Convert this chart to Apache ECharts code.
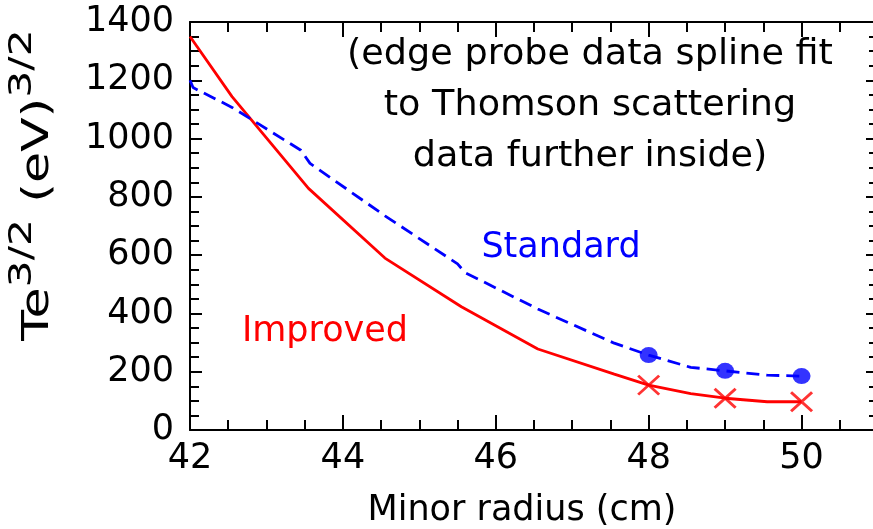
<!DOCTYPE html>
<html>
<head>
<meta charset="utf-8">
<script src="https://cdn.jsdelivr.net/npm/echarts@6/dist/echarts.min.js"></script>
<style>
  html, body { margin: 0; padding: 0; background: #ffffff; overflow: hidden; width: 873px; height: 529px; }
  #chart { width: 878px; height: 529px; }
</style>
</head>
<body>
<div id="chart"></div>
<script>
// ---- data ----
const improvedX = [42.00, 42.55, 43.55, 44.55, 45.55, 46.55, 47.55, 48.00, 48.55, 49.00, 49.55, 50.00];
const improvedY = [1350, 1144, 829, 590, 423, 278, 192, 154, 125, 109, 97, 97];
const standardX = [42.00, 42.04, 42.55, 43.45, 43.57, 44.55, 45.50, 45.60, 46.55, 47.55, 48.00, 48.55, 49.00, 49.55, 50.00];
const standardY = [1200, 1175, 1107, 960, 915, 735, 570, 540, 415, 298, 257, 215, 203, 188, 185];
const markerX = [48, 49, 50];
const standardMarkY = [257, 203, 185];
const improvedMarkY = [154, 109, 97];
const xTicks = [42, 44, 46, 48, 50];
const yTicks = [0, 200, 400, 600, 800, 1000, 1200, 1400];
const noteLines = ['(edge probe data spline fit', 'to Thomson scattering', 'data further inside)'];

const FONT = 'DejaVu Sans';
const pairs = (xs, ys) => xs.map((x, i) => [x, ys[i]]);

const chart = echarts.init(document.getElementById('chart'), null, { renderer: 'canvas' });

const baseX = {
  type: 'value', min: xTicks[0], max: 51, splitLine: { show: false },
  axisLine: { show: false, onZero: false }
};
const baseY = {
  type: 'value', min: yTicks[0], max: yTicks[yTicks.length - 1], interval: 200,
  splitLine: { show: false }
};
const txt = (t, x, y, color, extra) => Object.assign({
  type: 'text', x: x, y: y,
  style: { text: t, fill: color, font: '35px "' + FONT + '"', textAlign: 'center', textVerticalAlign: 'middle' }
}, extra || {});

const option = {
  backgroundColor: '#ffffff',
  animation: false,
  grid: { left: 190, top: 22, right: 0, bottom: 99, containLabel: false },
  xAxis: [
    Object.assign({}, baseX, {
      position: 'bottom', interval: 2,
      axisLine: { show: true, onZero: false, lineStyle: { color: '#000', width: 2 } },
      axisTick: { show: true, inside: true, length: 15, lineStyle: { color: '#000', width: 2 } },
      axisLabel: {
        show: true, margin: 11, color: '#000', fontFamily: FONT, fontSize: 35,
        showMaxLabel: false,
        formatter: v => (xTicks.indexOf(v) >= 0 ? String(v) : '')
      }
    }),
    Object.assign({}, baseX, {
      position: 'bottom', interval: 0.5,
      axisTick: { show: true, inside: true, length: 10, lineStyle: { color: '#000', width: 2 } },
      axisLabel: { show: false }
    }),
    Object.assign({}, baseX, {
      position: 'top', interval: 2,
      axisLine: { show: true, onZero: false, lineStyle: { color: '#000', width: 2 } },
      axisTick: { show: true, inside: true, length: 15, lineStyle: { color: '#000', width: 2 } },
      axisLabel: { show: false }
    }),
    Object.assign({}, baseX, {
      position: 'top', interval: 0.5,
      axisTick: { show: true, inside: true, length: 10, lineStyle: { color: '#000', width: 2 } },
      axisLabel: { show: false }
    })
  ],
  yAxis: [
    Object.assign({}, baseY, {
      position: 'left',
      axisLine: { show: true, onZero: false, lineStyle: { color: '#000', width: 2 } },
      axisTick: { show: true, inside: true, length: 12, lineStyle: { color: '#000', width: 2 } },
      minorTick: { show: true, splitNumber: 4, length: 9, lineStyle: { color: '#000', width: 2 } },
      axisLabel: {
        show: true, margin: 16, color: '#000', fontFamily: FONT, fontSize: 35,
        formatter: v => (yTicks.indexOf(v) >= 0 ? String(v) : '')
      }
    }),
    Object.assign({}, baseY, {
      position: 'right',
      axisLine: { show: true, onZero: false, lineStyle: { color: '#000', width: 2 } },
      axisTick: { show: true, inside: true, length: 12, lineStyle: { color: '#000', width: 2 } },
      minorTick: { show: true, splitNumber: 4, length: 9, lineStyle: { color: '#000', width: 2 } },
      axisLabel: { show: false }
    })
  ],
  series: [
    {
      name: 'Improved', type: 'line', xAxisIndex: 0, yAxisIndex: 0,
      data: pairs(improvedX, improvedY), showSymbol: false, symbol: 'none',
      lineStyle: { color: '#ff0000', width: 2.8 }, z: 3
    },
    {
      name: 'Standard', type: 'line', xAxisIndex: 0, yAxisIndex: 0,
      data: pairs(standardX, standardY), showSymbol: false, symbol: 'none',
      lineStyle: { color: '#0000ff', width: 2.8, type: [13, 7] }, z: 3
    },
    {
      name: 'Standard points', type: 'scatter', xAxisIndex: 0, yAxisIndex: 0,
      data: pairs(markerX, standardMarkY), symbol: 'circle', symbolSize: [18, 16],
      itemStyle: { color: '#0000ff' }, z: 4
    },
    {
      name: 'Improved points', type: 'scatter', xAxisIndex: 0, yAxisIndex: 0,
      data: pairs(markerX, improvedMarkY), symbol: 'path://M0,0L20,18M20,0L0,18', symbolSize: [21, 19],
      itemStyle: { color: 'rgba(0,0,0,0)', borderColor: '#ff0000', borderWidth: 2.8 }, z: 4
    }
  ],
  graphic: [
    ...noteLines.map((t, i) => txt(t, 590, 55 + i * 51, '#000', { scaleX: 1.045 })),
    txt('Standard', 561, 248, '#0000ff'),
    txt('Improved', 325, 332, '#ff0000'),
    txt('Minor radius (cm)', 522, 511, '#000'),
    { type: 'text', x: 38, y: 185, rotation: Math.PI / 2, scaleX: 1.33,
      style: {
        text: '{m|Te}{s|3/2}{m| (eV)}{s|3/2}',
        textAlign: 'center', textVerticalAlign: 'middle', fill: '#000',
        rich: {
          m: { fontFamily: FONT, fontSize: 38, lineHeight: 62, fill: '#000' },
          s: { fontFamily: FONT, fontSize: 32, lineHeight: 32, verticalAlign: 'top', fill: '#000' }
        }
      } }
  ]
};
chart.setOption(option);
</script>
</body>
</html>
